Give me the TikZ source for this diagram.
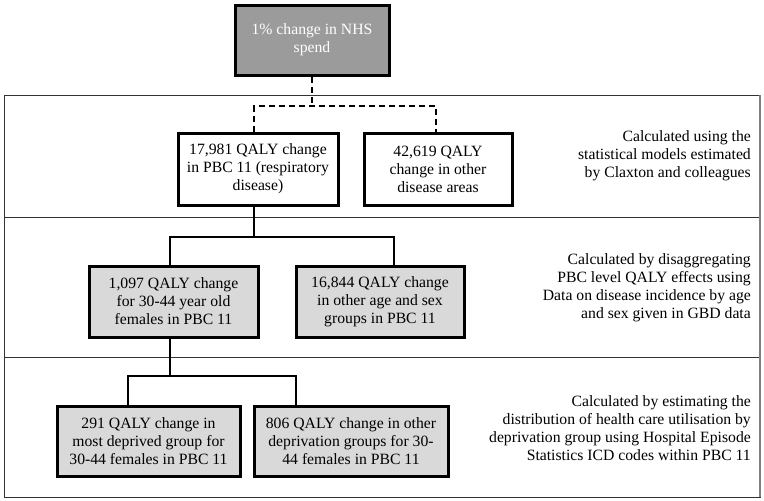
\documentclass[tikz,border=0pt]{standalone}
\usepackage{fontspec}
\setmainfont{Liberation Serif}
\usepackage{tikz}
\definecolor{topgray}{RGB}{155,155,155}
\definecolor{boxgray}{RGB}{217,217,217}
\tikzset{
	box/.style={draw,line width=3pt,align=center,inner sep=0pt,font=\fontsize{15.7}{18}\selectfont},
	note/.style={anchor=east,align=right,inner sep=0pt,font=\fontsize{15.7}{18}\selectfont},
	link/.style={line width=2.8pt},
	dlink/.style={line width=2.8pt,dash pattern=on 6pt off 4pt}
}

\begin{document}
\begin{tikzpicture}[x=1pt,y=-1pt]
	\useasboundingbox (0,0) rectangle (764,501);
	% panels
	\draw[line width=0.9pt,black!80] (4,95) rectangle (760,497);
	\draw[line width=0.9pt,black!80] (4,217) -- (760,217);
	\draw[line width=0.9pt,black!80] (4,357) -- (760,357);
	\draw[line width=1.6pt,gray] (760,95) -- (760,497);
	%
	\node[box,fill=topgray,text=white,minimum width=154pt,minimum height=70pt] (spend) at (312,40) {1\% change in NHS\\spend};
	%
	\node[box,minimum width=160pt,minimum height=72pt] (resp) at (258,169) {17,981 QALY change\\in PBC 11 (respiratory\\disease)};
	\node[box,minimum width=148pt,minimum height=72pt] (other) at (438,169) {42,619 QALY\\change in other\\disease areas};
	\node[note] (claxton) at (751,156) {Calculated using the\\statistical models estimated\\by Claxton and colleagues};
	%
	\node[box,fill=boxgray,minimum width=169pt,minimum height=71pt] (fem) at (173.5,301.5) {1,097 QALY change\\for 30-44 year old\\females in PBC 11};
	\node[box,fill=boxgray,minimum width=168pt,minimum height=71pt] (agesex) at (380,301.5) {16,844 QALY change\\in other age and sex\\groups in PBC 11};
	\node[note] (gbd) at (751,288) {Calculated by disaggregating\\PBC level QALY effects using\\Data on disease incidence by age\\and sex given in GBD data};
	%
	\node[box,fill=boxgray,minimum width=183pt,minimum height=70pt] (depr) at (148.5,441) {291 QALY change in\\most deprived group for\\30-44 females in PBC 11};
	\node[box,fill=boxgray,minimum width=194pt,minimum height=70pt] (otherdepr) at (351,441) {806 QALY change in other\\deprivation groups for 30-\\44 females in PBC 11};
	\node[note] (hes) at (751,428) {Calculated by estimating the\\distribution of health care utilisation by\\deprivation group using Hospital Episode\\Statistics ICD codes within PBC 11};
	% connectors
	\coordinate (j1) at (312,106);
	\draw[dlink] (spend.south) -- (j1);
	\draw[dlink] ([xshift=-4pt]resp.north) |- (j1) -| ([xshift=-2pt]other.north);
	%
	\coordinate (j2) at (254,237);
	\draw[link] ([xshift=-4pt]resp.south) -- (j2);
	\draw[link] ([xshift=-3.5pt]fem.north) |- (j2) -| ([xshift=14pt]agesex.north);
	%
	\coordinate (j3) at (170,376);
	\draw[link] ([xshift=-3.5pt]fem.south) -- (j3);
	\draw[link] ([xshift=-20.5pt]depr.north) |- (j3) -| ([xshift=-55pt]otherdepr.north);
\end{tikzpicture}
\end{document}
